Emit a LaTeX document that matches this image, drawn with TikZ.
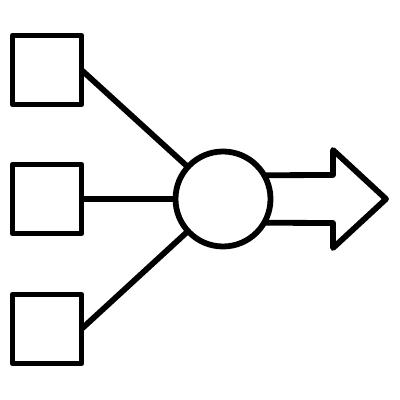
\documentclass[tikz,border=0pt]{standalone}
\usepackage{tikz}
\usetikzlibrary{calc}

\begin{document}
\begin{tikzpicture}[line width=0.145cm,line join=round,
		box/.style={draw,minimum size=1.725cm,inner sep=0pt,outer sep=0pt},
		hub/.style={draw,circle,minimum size=2.375cm,inner sep=0pt,outer sep=0pt}]
				\useasboundingbox (0,0) rectangle (10,10);
				\node[box] (in1) at (1.175,8.25) {};
				\node[box] (in2) at (1.175,5.025) {};
				\node[box] (in3) at (1.175,1.775) {};
				\node[hub] (H) at (5.575,5.025) {};
				\draw (in1.east) -- (H);
				\draw (in2.east) -- (H);
				\draw (in3.east) -- (H);
				% arrow out of the hub
				\coordinate (tip) at (9.65,5.025);
				\draw (H.30.3) -- (8.325,5.625) -- (8.325,6.25) -- (tip)
					-- (8.325,3.8) -- (8.325,4.425) -- (H.-30.3);
			\end{tikzpicture}
\end{document}
